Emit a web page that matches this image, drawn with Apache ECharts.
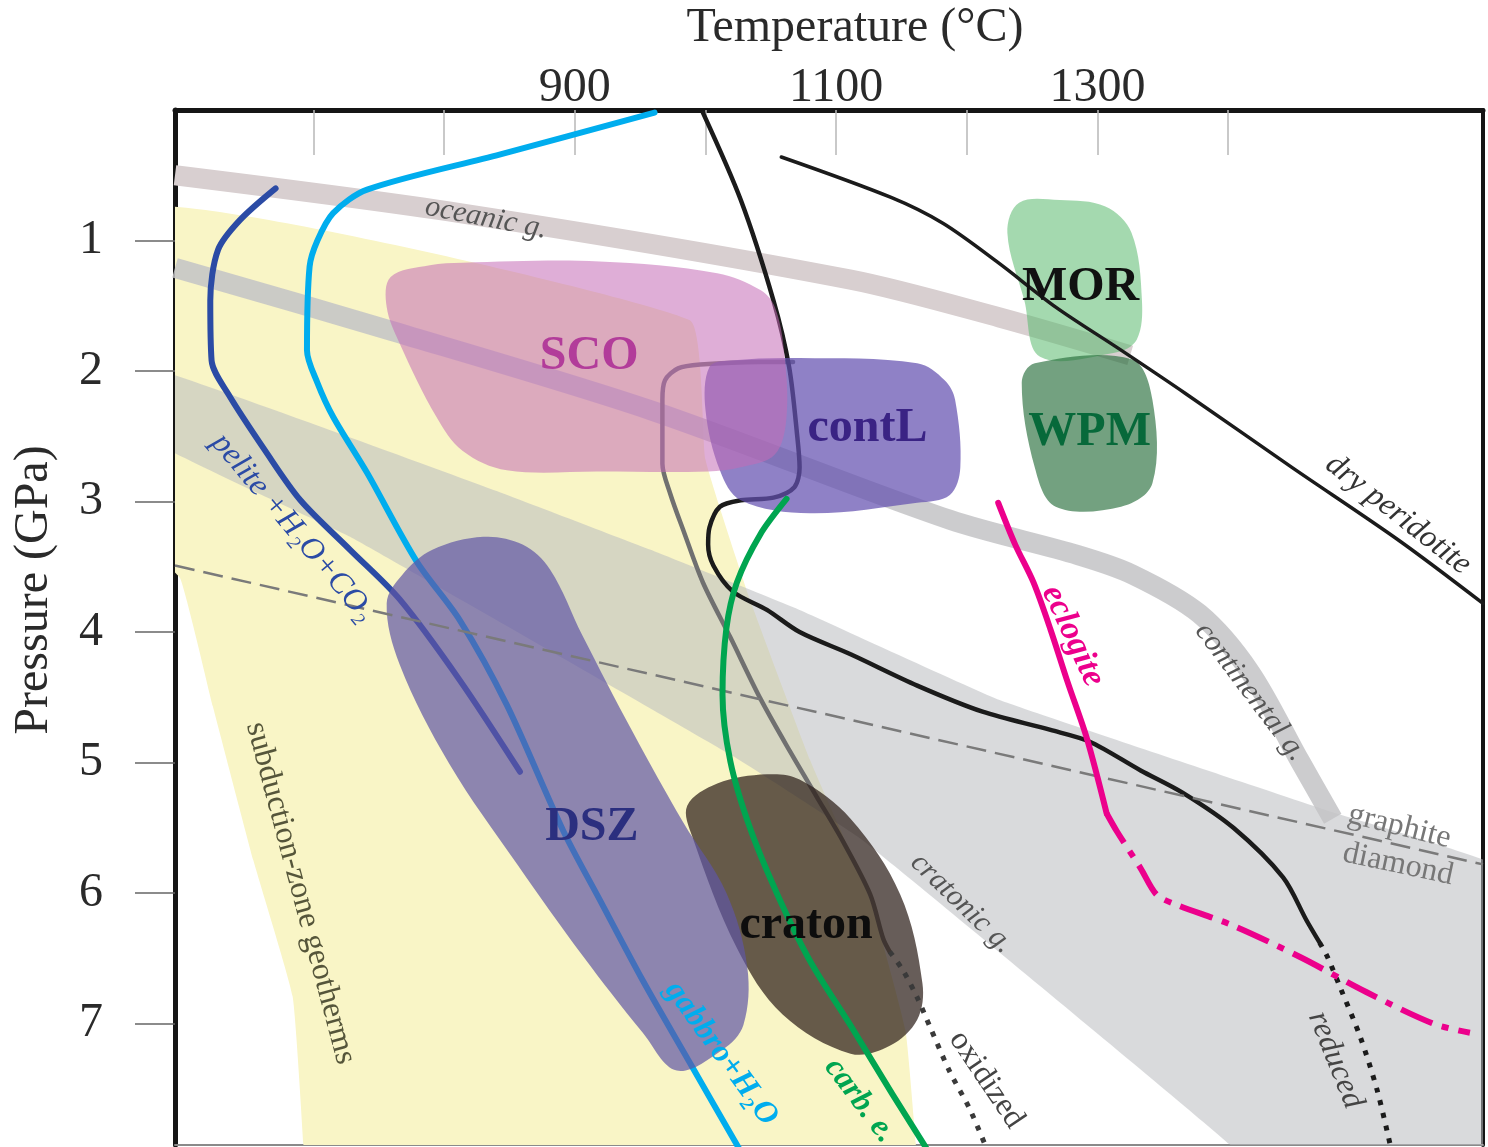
<!DOCTYPE html>
<html>
<head>
<meta charset="utf-8">
<script src="https://cdn.jsdelivr.net/npm/echarts@6/dist/echarts.min.js"></script>
<style>
  html, body { margin: 0; padding: 0; background: #fff; overflow: hidden; }
  #chart { width: 1488px; height: 1147px; }
</style>
</head>
<body>
<div id="chart"></div>
<script>
// ---- axis ticks ----
const tempTicks = [700, 800, 900, 1000, 1100, 1200, 1300, 1400];
const tempLabels = [900, 1100, 1300];
const pressureTicks = [1, 2, 3, 4, 5, 6, 7];

// ---- fields: [temperature °C, pressure GPa] outlines ----
const subductionZone = [[570,0.75],[988,1.61],[1000,2.68],[1034,3.75],[1080,4.98],[1126,6.05],[1153,7.05],[1162,8.05],[1165,8.3],[693,8.3],[693,8.05],[684,6.79],[654,5.75],[623,4.57],[598,3.59],[570,3.30]];
const cratonicGeotherm = [[570,1.96],[843,2.93],[958,3.37],[1072,3.83],[1225,4.52],[1480,5.38],[1620,5.86],[1620,8.3],[1413,8.3],[1404,7.95],[1121,5.60],[1021,4.95],[728,3.27],[570,2.50]];
const oceanicGeotherm = [[594,0.50],[812,0.79],[1111,1.30],[1225,1.59],[1325,1.88]];
const continentalGeotherm = [[594,1.21],[759,1.69],[958,2.30],[1187,3.14],[1285,3.41],[1327,3.56],[1378,3.86],[1417,4.31],[1455,4.99],[1480,5.43]];

const fieldSCO = [[759,1.28],[789,1.19],[814,1.17],[919,1.16],[1009,1.25],[1042,1.38],[1053,1.51],[1060,1.84],[1062,2.35],[1053,2.64],[1026,2.74],[1002,2.77],[919,2.77],[848,2.76],[814,2.61],[794,2.35],[766,1.79],[756,1.51]];
const fieldContL = [[1003,1.97],[1019,1.92],[1072,1.90],[1162,1.94],[1183,2.07],[1191,2.22],[1195,2.74],[1187,2.95],[1162,3.01],[1080,3.09],[1027,2.99],[1011,2.76],[1000,2.30]];
const fieldMOR = [[1240,0.71],[1271,0.69],[1306,0.74],[1326,0.94],[1334,1.46],[1330,1.76],[1313,1.86],[1256,1.89],[1244,1.46],[1231,0.94]];
const fieldWPM = [[1252,1.94],[1326,1.91],[1342,2.22],[1342,2.86],[1318,3.04],[1268,3.04],[1252,2.74],[1242,2.09]];
const fieldDSZ = [[830,3.27],[860,3.33],[881,3.52],[906,4.03],[944,4.76],[983,5.46],[1016,6.00],[1032,6.57],[1029,7.01],[1013,7.20],[978,7.36],[952,7.07],[906,6.48],[856,5.78],[804,5.01],[766,4.25],[756,3.78],[768,3.56],[791,3.37]];
const fieldCraton = [[1047,5.09],[1072,5.13],[1111,5.43],[1149,6.01],[1166,6.69],[1162,6.97],[1141,7.17],[1111,7.23],[1059,6.93],[1024,6.42],[990,5.57],[986,5.33],[1009,5.16]];

// ---- solidi ----
const peliteSolidus = [[671,0.60],[644,0.84],[627,1.07],[621,1.46],[622,1.92],[635,2.18],[663,2.61],[690,2.99],[728,3.37],[766,3.75],[812,4.37],[858,5.07]];
const gabbroSolidus = [[961,0.02],[843,0.34],[741,0.61],[715,0.79],[703,1.00],[697,1.20],[695,1.84],[703,2.09],[715,2.35],[741,2.78],[779,3.46],[812,3.91],[848,4.56],[891,5.52],[919,6.05],[952,6.67],[988,7.30],[1031,8.05]];
const carbEclogiteSolidus = [[1062,2.98],[1042,3.25],[1024,3.62],[1016,3.97],[1013,4.48],[1019,4.99],[1034,5.50],[1055,6.01],[1080,6.52],[1112,7.03],[1143,7.54],[1175,8.05]];
const reducedSolidus = [[998,0.02],[1027,0.69],[1052,1.46],[1064,1.97],[1070,2.48],[1072,2.74],[1068,2.89],[1052,2.97],[1027,2.99],[1011,3.04],[1003,3.20],[1002,3.33],[1006,3.49],[1021,3.69],[1047,3.83],[1072,4.00],[1111,4.17],[1162,4.41],[1212,4.61],[1264,4.75],[1294,4.84],[1333,5.06],[1365,5.23],[1404,5.50],[1442,5.88],[1460,6.21],[1470,6.38]];
const reducedSolidusExtrap = [[1470,6.38],[1476,6.49],[1486,6.73],[1501,7.10],[1514,7.51],[1524,7.93]];
const oxidizedSolidus = [[1067,1.93],[1042,1.93],[996,1.95],[979,1.98],[969,2.07],[967,2.22],[967,2.71],[973,2.94],[983,3.22],[998,3.62],[1019,4.04],[1042,4.51],[1065,4.92],[1085,5.26],[1105,5.60],[1126,6.01],[1136,6.35],[1141,6.45]];
const oxidizedSolidusExtrap = [[1141,6.45],[1151,6.59],[1162,6.80],[1172,7.03],[1187,7.37],[1202,7.65],[1214,7.93]];
const eclogiteSolidus = [[1224,3.01],[1237,3.33],[1251,3.62],[1264,3.98],[1277,4.38],[1292,4.82],[1307,5.39]];
const eclogiteSolidusExtrap = [[1307,5.39],[1315,5.53],[1333,5.81],[1345,6.01],[1358,6.08],[1404,6.25],[1455,6.49],[1506,6.76],[1557,7.00],[1585,7.07]];
const dryPeridotite = [[1058,0.36],[1142,0.67],[1182,0.87],[1224,1.17],[1268,1.51],[1318,1.84],[1367,2.17],[1449,2.74],[1531,3.30],[1595,3.78]];
const graphiteDiamond = [[594,3.49],[1595,5.78]];

// ---- annotations ----
const labelText = ['SCO','contL','MOR','WPM','DSZ','craton','oceanic g.','pelite +H₂O+CO₂','subduction-zone geotherms','gabbro+H₂O','carb. e.','eclogite','continental g.','dry peridotite','graphite','diamond','cratonic g.','oxidized','reduced'];
const labelAt = [[911,1.89],[1124,2.44],[1287,1.36],[1294,2.47],[913,5.50],[1077,6.25],[832,0.83],[684,3.20],[690,6.00],[1012,7.23],[1118,7.59],[1281,4.03],[1417,4.46],[1530,3.10],[1531,5.49],[1530,5.78],[1196,6.08],[1215,7.43],[1482,7.28]];

// ---- drawing ----
const SERIF = '"Liberation Serif", "Times New Roman", serif';
const labelLook = [
  { angle: 0,  color: '#b23c9a', size: 48, weight: 'bold', style: 'normal' },
  { angle: 0,  color: '#3a2384', size: 48, weight: 'bold', style: 'normal' },
  { angle: 0,  color: '#111111', size: 48, weight: 'bold', style: 'normal' },
  { angle: 0,  color: '#07693a', size: 48, weight: 'bold', style: 'normal' },
  { angle: 0,  color: '#2b2f7f', size: 48, weight: 'bold', style: 'normal' },
  { angle: 0,  color: '#0d0d0d', size: 48, weight: 'bold', style: 'normal' },
  { angle: 11, color: '#555555', size: 30, weight: 'normal', style: 'italic' },
  { angle: 50, color: '#2b4ba5', size: 32, weight: 'normal', style: 'italic' },
  { angle: 75, color: '#55553a', size: 32, weight: 'normal', style: 'normal' },
  { angle: 54, color: '#00adee', size: 32, weight: 'bold', style: 'italic' },
  { angle: 53, color: '#00a550', size: 32, weight: 'bold', style: 'italic' },
  { angle: 65, color: '#ec008c', size: 34, weight: 'bold', style: 'italic' },
  { angle: 53, color: '#555555', size: 30, weight: 'normal', style: 'italic' },
  { angle: 38, color: '#333333', size: 32, weight: 'normal', style: 'italic' },
  { angle: 14, color: '#777777', size: 32, weight: 'normal', style: 'normal' },
  { angle: 12, color: '#777777', size: 32, weight: 'normal', style: 'normal' },
  { angle: 44, color: '#555555', size: 30, weight: 'normal', style: 'italic' },
  { angle: 56, color: '#444444', size: 32, weight: 'normal', style: 'normal' },
  { angle: 68, color: '#444444', size: 32, weight: 'normal', style: 'italic' }
];

function area(name, pts, fill, z, smooth) {
  return {
    type: 'custom', name: name, z: z, clip: true, silent: true,
    encode: { x: 0, y: 1 },
    data: pts,
    renderItem: function (params, api) {
      if (params.dataIndex !== 0) return null;
      return {
        type: 'polygon',
        shape: { points: pts.map(function (p) { return api.coord(p); }), smooth: smooth },
        style: { fill: fill }
      };
    }
  };
}

function curve(name, pts, color, width, z, opts) {
  opts = opts || {};
  return {
    type: 'line', name: name, data: pts, z: z, silent: true,
    smooth: opts.smooth == null ? 0.3 : opts.smooth,
    showSymbol: false, symbol: 'none', clip: true,
    lineStyle: {
      color: color, width: width, type: opts.type || 'solid',
      cap: opts.cap || 'round', join: 'round', opacity: 1
    }
  };
}

const labelSeries = {
  type: 'custom', name: 'labels', z: 20, silent: true, clip: false,
  encode: { x: 0, y: 1 },
  data: labelAt,
  renderItem: function (params, api) {
    const i = params.dataIndex;
    const p = api.coord([api.value(0), api.value(1)]);
    const s = labelLook[i];
    return {
      type: 'text', x: p[0], y: p[1],
      rotation: -s.angle * Math.PI / 180,
      style: {
        text: labelText[i], fill: s.color,
        fontSize: s.size, fontFamily: SERIF, fontWeight: s.weight, fontStyle: s.style,
        align: 'center', verticalAlign: 'middle'
      }
    };
  }
};

const chart = echarts.init(document.getElementById('chart'), null, { renderer: 'canvas' });

chart.setOption({
  animation: false,
  backgroundColor: '#ffffff',
  grid: { left: 175, right: 5, top: 110, bottom: 2, containLabel: false },
  xAxis: [{
    type: 'value', position: 'top', min: 594, max: 1595,
    axisLine: { show: true, onZero: false, lineStyle: { color: '#151515', width: 5 } },
    axisTick: { show: true, inside: true, length: 45, customValues: tempTicks, lineStyle: { color: '#b8b8b8', width: 1.5 } },
    axisLabel: {
      show: true, customValues: tempLabels, margin: -2, fontSize: 48, fontFamily: SERIF, color: '#2a2a2a',
      formatter: function (v) { return String(v); }
    },
    splitLine: { show: false }
  }, {
    type: 'value', position: 'bottom', min: 594, max: 1595,
    axisLine: { show: true, onZero: false, lineStyle: { color: '#8a8a8a', width: 2 } },
    axisTick: { show: false }, axisLabel: { show: false }, splitLine: { show: false }
  }],
  yAxis: [{
    type: 'value', inverse: true, position: 'left', min: 0, max: 7.93,
    axisLine: { show: true, onZero: false, lineStyle: { color: '#151515', width: 5 } },
    axisTick: { show: true, inside: false, length: 40, customValues: pressureTicks, lineStyle: { color: '#666666', width: 1.5 } },
    axisLabel: { show: true, customValues: pressureTicks, margin: 72, fontSize: 48, fontFamily: SERIF, color: '#2a2a2a' },
    splitLine: { show: false }
  }, {
    type: 'value', inverse: true, position: 'right', min: 0, max: 7.93,
    axisLine: { show: true, onZero: false, lineStyle: { color: '#151515', width: 4 } },
    axisTick: { show: false }, axisLabel: { show: false }, splitLine: { show: false }
  }],
  graphic: [{
    type: 'text', x: 855, y: 28,
    style: { text: 'Temperature (°C)', fontSize: 48, fontFamily: SERIF, fill: '#2a2a2a', align: 'center', verticalAlign: 'middle' }
  }, {
    type: 'text', x: 34, y: 590, rotation: Math.PI / 2,
    style: { text: 'Pressure (GPa)', fontSize: 48, fontFamily: SERIF, fill: '#2a2a2a', align: 'center', verticalAlign: 'middle' }
  }],
  series: [
    area('subduction-zone geotherms', subductionZone, '#f9f5c6', 1, 0.12),
    area('cratonic geotherm', cratonicGeotherm, 'rgba(185,188,192,0.55)', 2, 0.08),
    curve('continental geotherm', continentalGeotherm, 'rgba(195,195,198,0.85)', 20, 3, { cap: 'butt' }),
    curve('oceanic geotherm', oceanicGeotherm, '#d8cfd0', 20, 3, { cap: 'butt' }),

    curve('gabbro + H2O', gabbroSolidus, '#00adee', 6, 4),
    curve('pelite + H2O + CO2', peliteSolidus, '#2b4ba5', 6, 4),
    curve('oxidized solidus', oxidizedSolidus, '#707070', 4.5, 4),
    curve('reduced solidus', reducedSolidus, '#1b1b1b', 4.5, 4),

    area('craton', fieldCraton, 'rgba(45,30,25,0.72)', 5, 0.35),
    area('DSZ', fieldDSZ, 'rgba(95,85,165,0.7)', 6, 0.35),
    area('contL', fieldContL, 'rgba(100,80,176,0.72)', 6, 0.35),
    area('SCO', fieldSCO, 'rgba(196,108,182,0.55)', 7, 0.35),
    area('MOR', fieldMOR, 'rgba(90,185,110,0.55)', 7, 0.35),
    area('WPM', fieldWPM, 'rgba(40,110,60,0.65)', 7, 0.35),

    curve('graphite-diamond', graphiteDiamond, '#7a7a7a', 2.5, 8, { type: [20, 9], cap: 'butt', smooth: false }),
    curve('dry peridotite', dryPeridotite, '#1b1b1b', 3.5, 8),
    curve('oxidized (extrapolated)', oxidizedSolidusExtrap, '#3a3a3a', 5, 8, { type: [5, 8], cap: 'butt' }),
    curve('reduced (extrapolated)', reducedSolidusExtrap, '#1b1b1b', 5, 8, { type: [5, 8], cap: 'butt' }),
    curve('eclogite', eclogiteSolidus, '#ec008c', 6, 8),
    curve('eclogite (extrapolated)', eclogiteSolidusExtrap, '#ec008c', 6, 8, { type: [34, 10, 7, 10], cap: 'butt' }),
    curve('carbonated eclogite', carbEclogiteSolidus, '#00a550', 6, 9),

    labelSeries
  ]
});
</script>
</body>
</html>
